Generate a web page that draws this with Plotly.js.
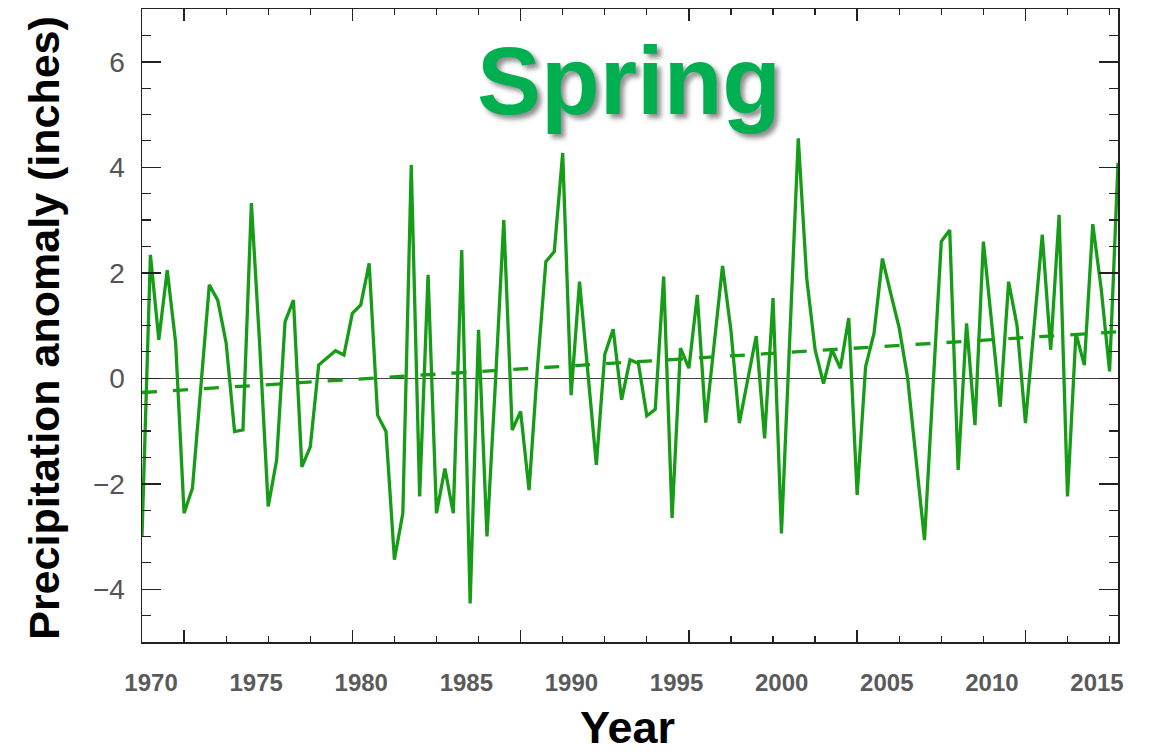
<!DOCTYPE html>
<html>
<head>
<meta charset="utf-8">
<script src="https://cdn.plot.ly/plotly-3.0.1.min.js"></script>
<style>html,body{margin:0;padding:0;background:#fff;}#chart{width:1149px;height:754px;}</style>
</head>
<body>
<div id="chart"></div>
<script>
// Spring precipitation anomaly (inches), one value per year
const firstYear = 1895;
const anomaly = [
  -3.0, 2.34, 0.73, 2.05, 0.67, -2.56, -2.08, -0.1, 1.77, 1.48,
  0.67, -1.01, -0.98, 3.32, 0.6, -2.43, -1.55, 1.07, 1.48, -1.68,
  -1.30, 0.25, 0.38, 0.52, 0.44, 1.23, 1.39, 2.18, -0.70, -1.01,
  -3.44, -2.56, 4.04, -2.24, 1.96, -2.56, -1.71, -2.56, 2.43, -4.27,
  0.92, -3.0, -0.1, 3.0, -0.98, -0.63, -2.12, 0.2, 2.21, 2.40,
  4.27, -0.32, 1.83, 0.1, -1.64, 0.45, 0.93, -0.41, 0.35, 0.28,
  -0.71, -0.59, 1.93, -2.65, 0.57, 0.19, 1.58, -0.84, 0.6, 2.13,
  0.9, -0.85, -0.02, 0.80, -1.14, 1.52, -2.94, 0.8, 4.55, 1.9,
  0.54, -0.1, 0.54, 0.19, 1.14, -2.21, 0.22, 0.85, 2.27, 1.6,
  0.95, 0.0, -1.5, -3.07, -0.2, 2.59, 2.81, -1.74, 1.04, -0.89,
  2.59, 1.0, -0.54, 1.83, 1.0, -0.85, 0.9, 2.72, 0.54, 3.10,
  -2.24, 0.85, 0.25, 2.92, 1.7, 0.13, 4.08
];
const years = anomaly.map((v, i) => firstYear + i);
// linear trend end points
const trendYears = [years[0], years[years.length - 1]];
const trendValues = [-0.27, 0.88];
// tick labels shown under the axis
const labelYears = [1970, 1975, 1980, 1985, 1990, 1995, 2000, 2005, 2010, 2015];
const labelRange = [1969.57, 2016.0];

const green = '#179c17';
const axisCol = '#222';
const sans = 'Liberation Sans, Arial, sans-serif';

const traces = [
  {x: years, y: anomaly, type: 'scatter', mode: 'lines',
   line: {color: green, width: 3.3}, hoverinfo: 'x+y', showlegend: false},
  {x: trendYears, y: trendValues, type: 'scatter', mode: 'lines',
   line: {color: green, width: 3.3, dash: '15px,16px'}, showlegend: false},
  {x: labelYears, y: labelYears.map(() => null), xaxis: 'x2', type: 'scatter',
   mode: 'lines', showlegend: false, hoverinfo: 'skip'}
];

const layout = {
  width: 1149, height: 754,
  margin: {l: 142, r: 31, t: 9, b: 112},
  paper_bgcolor: '#fff', plot_bgcolor: '#fff',
  showlegend: false,
  xaxis: {
    range: [years[0], years[years.length - 1]],
    tick0: 1900, dtick: 20, ticks: 'inside', ticklen: 12, tickwidth: 1.5, tickcolor: axisCol,
    showticklabels: false, showline: true, linecolor: axisCol, linewidth: 1.5,
    mirror: 'ticks', showgrid: false, zeroline: false,
    minor: {tick0: 1895, dtick: 5, ticks: 'inside', ticklen: 6, tickwidth: 1.2, tickcolor: axisCol, showgrid: false}
  },
  xaxis2: {
    overlaying: 'x', anchor: 'y', side: 'bottom', range: labelRange,
    tickmode: 'array', tickvals: labelYears, ticktext: labelYears.map(String),
    ticks: 'outside', ticklen: 19, tickcolor: 'rgba(0,0,0,0)',
    showline: false, showgrid: false, zeroline: false,
    tickfont: {family: sans, size: 24, color: '#5a5a5a', weight: 'bold'}
  },
  yaxis: {
    range: [-5, 7], tick0: 0, dtick: 2, ticks: 'inside', ticklen: 19, tickwidth: 1.5, tickcolor: axisCol,
    showline: true, linecolor: axisCol, linewidth: 1.5, mirror: 'ticks', showgrid: false,
    zeroline: true, zerolinecolor: '#444', zerolinewidth: 1,
    ticklabelstandoff: 10,
    tickfont: {family: sans, size: 28, color: '#555'},
    minor: {dtick: 0.5, ticks: 'inside', ticklen: 9, tickwidth: 1.2, tickcolor: axisCol, showgrid: false}
  },
  annotations: [
    {text: 'Spring', xref: 'paper', yref: 'paper', x: 0.499, y: 0.887, xanchor: 'center', yanchor: 'middle',
     showarrow: false,
     font: {family: sans, size: 96, color: '#00b050', weight: 'bold',
            shadow: '4px 4px 5px rgba(0,0,0,0.45)'}},
    {text: 'Year', xref: 'paper', yref: 'paper', x: 0.497, y: -0.135, xanchor: 'center', yanchor: 'middle',
     showarrow: false, font: {family: sans, size: 45, color: '#000', weight: 'bold'}},
    {text: 'Precipitation anomaly (inches)', xref: 'paper', yref: 'paper', x: -0.1, y: 0.497,
     xanchor: 'center', yanchor: 'middle', textangle: -90, showarrow: false,
     font: {family: sans, size: 43, color: '#000', weight: 'bold'}}
  ]
};

Plotly.newPlot('chart', traces, layout, {displayModeBar: false, staticPlot: true});
</script>
</body>
</html>
